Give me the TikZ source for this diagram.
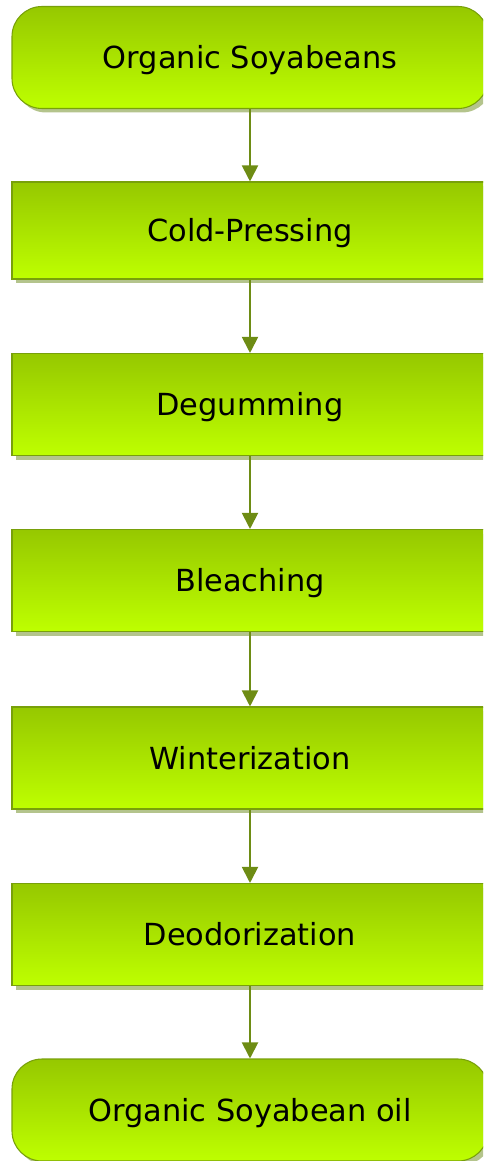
\documentclass[tikz,border=0pt]{standalone}
\usepackage{fontspec}
\setmainfont{DejaVu Sans}
\usetikzlibrary{arrows.meta, shadows}

\begin{document}
\begin{tikzpicture}
    % Define box sizes
    \def\w{9.52}
    \def\h{2.04}
    % Define colours
    \definecolor{boxtop}{RGB}{150,200,0} % darker green
    \definecolor{boxbottom}{RGB}{190,255,0} % lime
    \definecolor{boxline}{RGB}{120,160,10}
    \definecolor{shadowgreen}{RGB}{180,196,140}
    \definecolor{arrowgreen}{RGB}{110,140,20}

    \tikzset{
        procbox/.style={draw=boxline, line width=0.6pt, top color=boxtop, bottom color=boxbottom,
            minimum width=\w cm, minimum height=\h cm, inner sep=0pt,
            text height=12.6pt, text depth=0pt,
            font=\fontsize{17.3}{20}\selectfont,
            drop shadow={shadow xshift=0.08cm, shadow yshift=-0.08cm, fill=shadowgreen, opacity=1}},
        termbox/.style={procbox, rounded corners=0.6cm},
        flow/.style={draw=arrowgreen, line width=1.1pt, -{Triangle[length=0.32cm, width=0.32cm]}}
    }

    \useasboundingbox (0,0) rectangle (9.66,-23.22);
    \clip (0,0) rectangle (9.66,-23.22);

    % Nodes
    \node[termbox] (beans) at (5.0,-1.15) {Organic Soyabeans};
    \node[procbox, minimum height=1.94cm] (press) at (5.0,-4.61) {Cold-Pressing};
    \node[procbox] (degum) at (5.0,-8.09) {Degumming};
    \node[procbox] (bleach) at (5.0,-11.61) {Bleaching};
    \node[procbox] (winter) at (5.0,-15.16) {Winterization};
    \node[procbox] (deodor) at (5.0,-18.69) {Deodorization};
    \node[termbox] (oil) at (5.0,-22.2) {Organic Soyabean oil};

    % Arrows
    \draw[flow] (beans) -- (press);
    \draw[flow] (press) -- (degum);
    \draw[flow] (degum) -- (bleach);
    \draw[flow] (bleach) -- (winter);
    \draw[flow] (winter) -- (deodor);
    \draw[flow] (deodor) -- (oil);
\end{tikzpicture}
\end{document}
